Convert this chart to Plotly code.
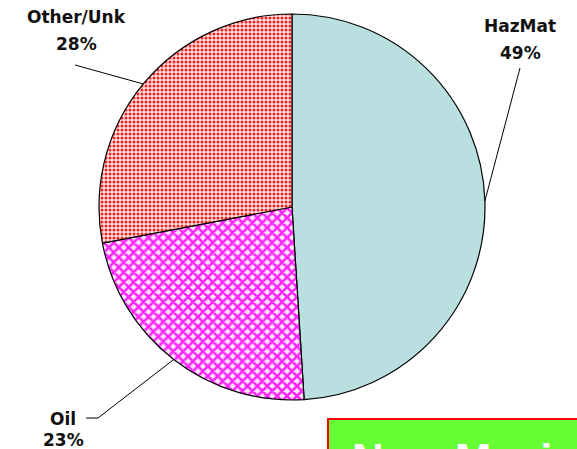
import math
import plotly.graph_objects as go

# ---- data ----
categories = ["HazMat", "Oil", "Other/Unk"]
shares = [49, 23, 28]
banner_text = "New Mexico"

# ---- styles ----
fg_colors = ["#b9dfe0", "#ff22ff", "#ff2020"]
bg_colors = ["#b9dfe0", "#ffe6ff", "#ffe4e4"]
patterns = ["", "x", "."]

W, H = 577, 449
CX, CY, R = 292, 207, 193  # pie centre / radius in pixels (layout)

fig = go.Figure()
fig.add_trace(go.Pie(
    labels=categories,
    values=shares,
    sort=False,
    direction="clockwise",
    rotation=0,
    textinfo="none",
    hoverinfo="label+percent",
    showlegend=False,
    domain=dict(x=[(CX - R) / W, (CX + R) / W],
                y=[(H - CY - R) / H, (H - CY + R) / H]),
    marker=dict(
        colors=bg_colors,
        line=dict(color="black", width=1.2),
        pattern=dict(
            shape=patterns,
            fgcolor=fg_colors,
            bgcolor=bg_colors,
            size=[8, 7, 4],
            solidity=[0.3, 0.6, 0.45],
            fillmode="replace",
        ),
    ),
))


def px(x, y):
    return x / W, 1 - y / H


def edge_point(idx):
    total = sum(shares)
    start = sum(shares[:idx]) / total * 360
    mid = start + shares[idx] / total * 360 / 2
    a = math.radians(mid)
    return CX + R * math.sin(a), CY - R * math.cos(a)


label_font = dict(family="DejaVu Sans", size=17, color="#111111")

# label positions (layout): x centre, top of name, top of percent
label_pos = {
    "HazMat": (520, 14, 41),
    "Oil": (63, 407, 428),
    "Other/Unk": (76, 5, 32),
}
leader = {
    "HazMat": [(520, 68)],
    "Oil": [(86, 418), (98, 418)],
    "Other/Unk": [(75, 65)],
}

annotations = []
shapes = []
for i, cat in enumerate(categories):
    x, y1, y2 = label_pos[cat]
    for txt, yy in ((cat, y1), (f"{shares[i]}%", y2)):
        xp, yp = px(x, yy)
        annotations.append(dict(x=xp, y=yp, xref="paper", yref="paper",
                                text=f"<b>{txt}</b>", showarrow=False,
                                xanchor="center", yanchor="top",
                                font=label_font))
    pts = leader[cat] + [edge_point(i)]
    for (xa, ya), (xb, yb) in zip(pts[:-1], pts[1:]):
        x0, y0 = px(xa, ya)
        x1, yy1 = px(xb, yb)
        shapes.append(dict(type="line", xref="paper", yref="paper",
                           x0=x0, y0=y0, x1=x1, y1=yy1,
                           line=dict(color="black", width=1)))

# green banner
bx0, by0 = px(328, 419)
shapes.append(dict(type="rect", xref="paper", yref="paper",
                   x0=bx0, y0=-0.05, x1=1.05, y1=by0,
                   fillcolor="#66ff33", line=dict(color="#ff0000", width=2)))
tx, ty = px(350, 433)
annotations.append(dict(x=tx, y=ty, xref="paper", yref="paper",
                        text=f"<b>{banner_text}</b>", showarrow=False,
                        xanchor="left", yanchor="top",
                        font=dict(family="Liberation Sans", size=44, color="white")))

fig.update_layout(
    width=W, height=H,
    margin=dict(l=0, r=0, t=0, b=0),
    paper_bgcolor="white",
    plot_bgcolor="white",
    shapes=shapes,
    annotations=annotations,
)

fig.write_html("out.html",
               config={"displayModeBar": False},
               post_script="document.body.style.margin='0';document.body.style.overflow='hidden';")
